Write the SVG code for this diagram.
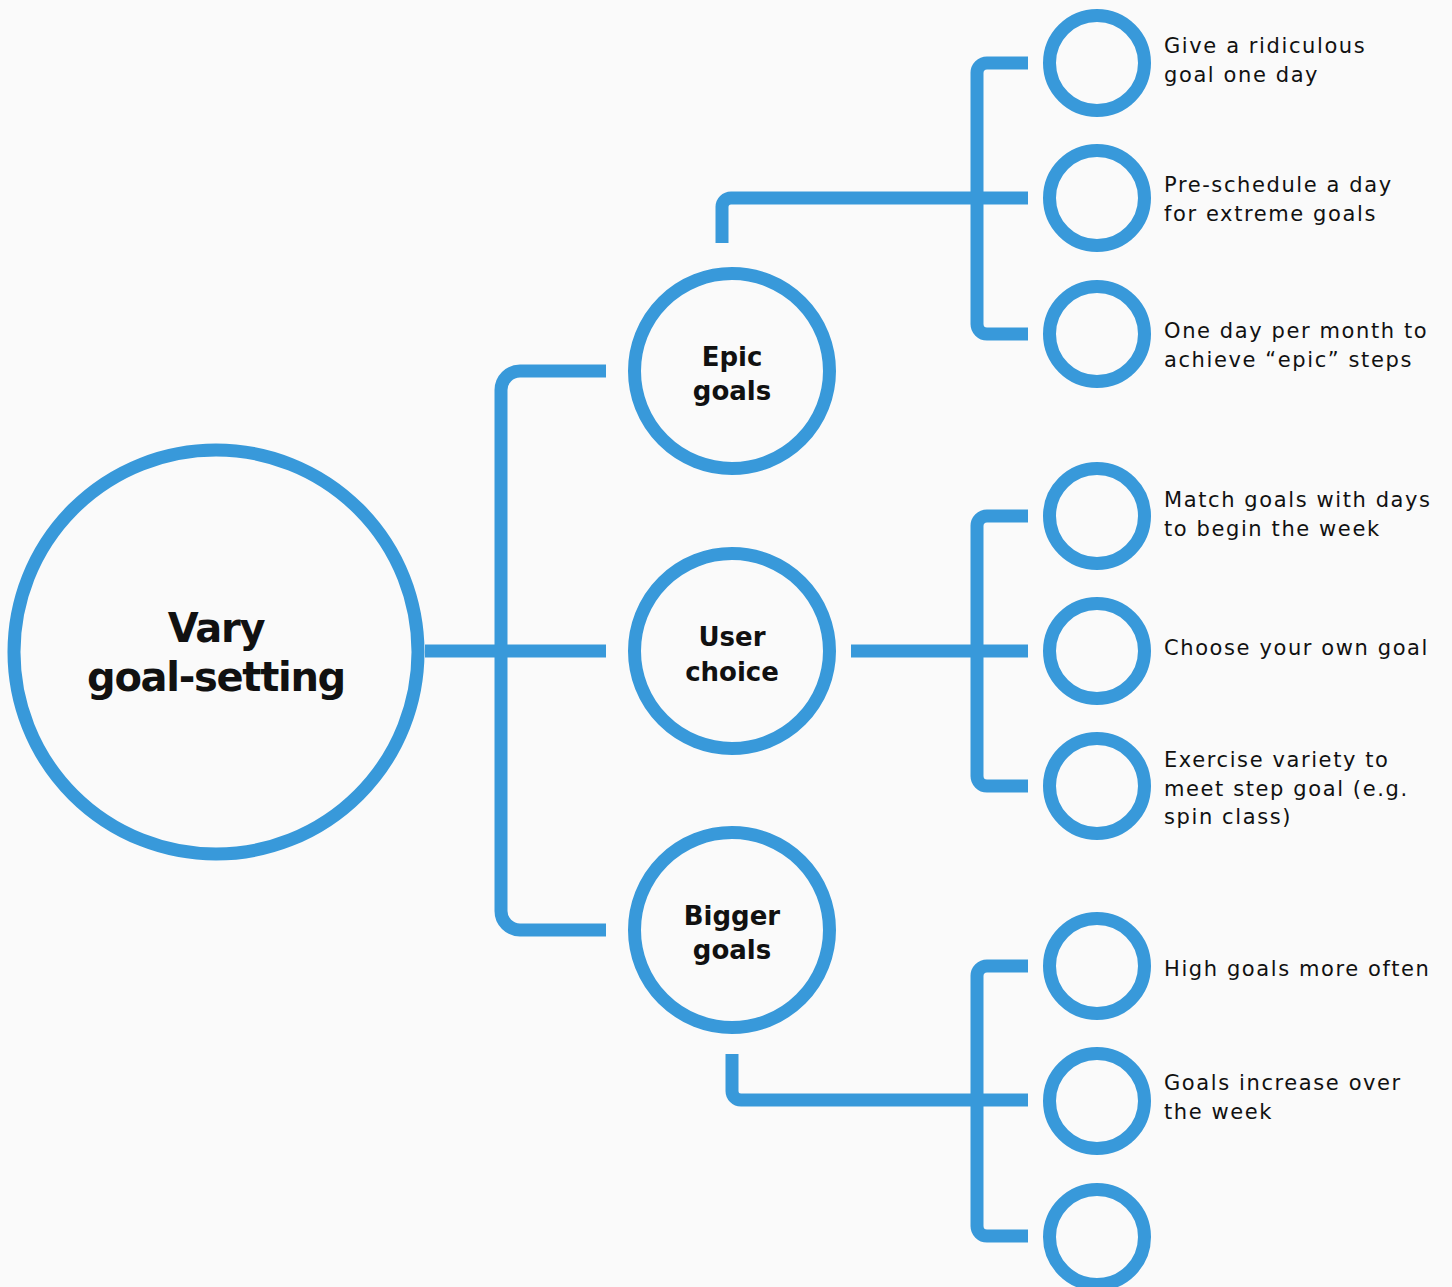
<svg xmlns="http://www.w3.org/2000/svg" width="1452" height="1287" viewBox="0 0 1452 1287">
<style>
.bg{fill:#fafafa}
.ring{fill:none;stroke:#3899da;stroke-width:13}
.wire{fill:none;stroke:#3899da;stroke-width:13;stroke-linejoin:round}
.main{font-family:"DejaVu Sans","Liberation Sans",sans-serif;font-weight:bold;font-size:40px;fill:#111;text-anchor:middle;letter-spacing:-1.3px}
.mid{font-family:"DejaVu Sans","Liberation Sans",sans-serif;font-weight:bold;font-size:26px;fill:#111;text-anchor:middle}
.lbl{font-family:"DejaVu Sans","Liberation Sans",sans-serif;font-size:21px;fill:#111;letter-spacing:1.6px}
</style>
<rect class="bg" x="0" y="0" width="1452" height="1287"/>
<g id="connectors">
<path class="wire" d="M425,651 H606"/>
<path class="wire" d="M606,371 H520 A19,19 0 0 0 501,390 V911 A19,19 0 0 0 520,930 H606"/>
<path class="wire" d="M722,243 V207 A9,9 0 0 1 731,198 H1028"/>
<path class="wire" d="M1028,63 H987 A10,10 0 0 0 977,73 V324 A10,10 0 0 0 987,334 H1028"/>
<path class="wire" d="M851,651 H1028"/>
<path class="wire" d="M1028,516 H987 A10,10 0 0 0 977,526 V776 A10,10 0 0 0 987,786 H1028"/>
<path class="wire" d="M732,1054 V1091 A9,9 0 0 0 741,1100 H1028"/>
<path class="wire" d="M1028,966 H987 A10,10 0 0 0 977,976 V1226 A10,10 0 0 0 987,1236 H1028"/>
</g>
<g id="root">
<circle class="ring" cx="216" cy="652" r="202"/>
<text class="main" x="216" y="642">Vary</text>
<text class="main" x="216" y="691">goal-setting</text>
</g>
<g id="epic">
<circle class="ring" cx="732" cy="371" r="97.5"/>
<text class="mid" x="732" y="366">Epic</text>
<text class="mid" x="732" y="400">goals</text>
</g>
<g id="user">
<circle class="ring" cx="732" cy="651" r="97.5"/>
<text class="mid" x="732" y="646">User</text>
<text class="mid" x="732" y="681">choice</text>
</g>
<g id="bigger">
<circle class="ring" cx="732" cy="930" r="97.5"/>
<text class="mid" x="732" y="925">Bigger</text>
<text class="mid" x="732" y="959">goals</text>
</g>
<g id="leaf1">
<circle class="ring" cx="1097" cy="63" r="47.5"/>
<text class="lbl" x="1164" y="53">Give a ridiculous</text>
<text class="lbl" x="1164" y="82">goal one day</text>
</g>
<g id="leaf2">
<circle class="ring" cx="1097" cy="198" r="47.5"/>
<text class="lbl" x="1164" y="192">Pre-schedule a day</text>
<text class="lbl" x="1164" y="221">for extreme goals</text>
</g>
<g id="leaf3">
<circle class="ring" cx="1097" cy="334" r="47.5"/>
<text class="lbl" x="1164" y="338">One day per month to</text>
<text class="lbl" x="1164" y="367">achieve “epic” steps</text>
</g>
<g id="leaf4">
<circle class="ring" cx="1097" cy="516" r="47.5"/>
<text class="lbl" x="1164" y="507">Match goals with days</text>
<text class="lbl" x="1164" y="536">to begin the week</text>
</g>
<g id="leaf5">
<circle class="ring" cx="1097" cy="651" r="47.5"/>
<text class="lbl" x="1164" y="655">Choose your own goal</text>
</g>
<g id="leaf6">
<circle class="ring" cx="1097" cy="786" r="47.5"/>
<text class="lbl" x="1164" y="767">Exercise variety to</text>
<text class="lbl" x="1164" y="796">meet step goal (e.g.</text>
<text class="lbl" x="1164" y="824">spin class)</text>
</g>
<g id="leaf7">
<circle class="ring" cx="1097" cy="966" r="47.5"/>
<text class="lbl" x="1164" y="976">High goals more often</text>
</g>
<g id="leaf8">
<circle class="ring" cx="1097" cy="1101" r="47.5"/>
<text class="lbl" x="1164" y="1090">Goals increase over</text>
<text class="lbl" x="1164" y="1119">the week</text>
</g>
<g id="leaf9">
<circle class="ring" cx="1097" cy="1237" r="47.5"/>
</g>
</svg>
